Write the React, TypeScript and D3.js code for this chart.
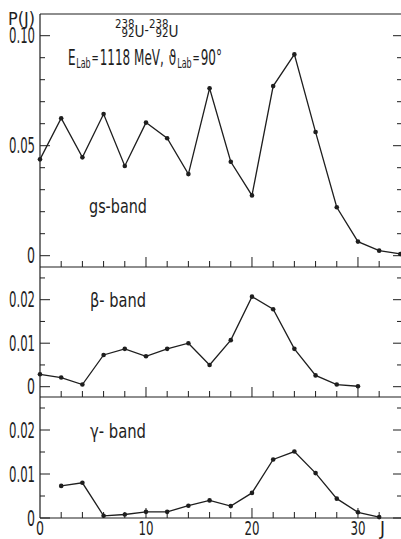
import React from "react";
import * as d3 from "d3";

const J_GS = [0, 2, 4, 6, 8, 10, 12, 14, 16, 18, 20, 22, 24, 26, 28, 30, 32, 34];
const P_GS = [0.0438, 0.0625, 0.0447, 0.0644, 0.0408, 0.0605, 0.0534, 0.0371, 0.0761, 0.0427, 0.0274, 0.0771, 0.0915, 0.0562, 0.022, 0.0064, 0.0023, 0.0008];

const J_BETA = [0, 2, 4, 6, 8, 10, 12, 14, 16, 18, 20, 22, 24, 26, 28, 30];
const P_BETA = [0.00285, 0.0021, 0.0005, 0.0073, 0.0087, 0.007, 0.0087, 0.01, 0.005, 0.0107, 0.0207, 0.0178, 0.0087, 0.0026, 0.0005, 0.0001];

const J_GAMMA = [2, 4, 6, 8, 10, 12, 14, 16, 18, 20, 22, 24, 26, 28, 30, 32];
const P_GAMMA = [0.0073, 0.008, 0.0005, 0.0008, 0.0014, 0.0014, 0.0028, 0.004, 0.0027, 0.0057, 0.0133, 0.0151, 0.0102, 0.0044, 0.0013, 0.0002];

const X_TICKS = d3.range(0, 34, 2);
const X_LABELS = [0, 10, 20, 30];
const GS_TICKS = d3.range(0, 11).map((i) => i * 0.01);
const GS_LABELS = [0, 0.05, 0.1];
const SMALL_TICKS = [0, 0.005, 0.01, 0.015, 0.02, 0.025];
const SMALL_LABELS = [0, 0.01, 0.02];

const INK = "#1e1e1e";
const FONT = "'Liberation Sans Narrow', 'DejaVu Sans Condensed', 'Arial Narrow', sans-serif";

const fmt = (v: number) => (v === 0 ? "0" : v.toFixed(2));

function T({ x, y, s, w, children, anchor = "start" }: any) {
  return (
    <text
      x={x}
      y={y}
      fontSize={s}
      fontFamily={FONT}
      fill={INK}
      textAnchor={anchor}
      textLength={w}
      lengthAdjust="spacingAndGlyphs"
    >
      {children}
    </text>
  );
}

const LEFT = 40;
const RIGHT = 401;

const x = d3.scaleLinear().domain([0, 34.06]).range([LEFT, RIGHT]);

function Panel({ js, ps, yScale, ticks, labels, top, bottom }: any) {
  const line = d3
    .line<number>()
    .x((_, i) => x(js[i]))
    .y((d) => yScale(d));
  return (
    <g>
      <line x1={LEFT} x2={RIGHT} y1={bottom} y2={bottom} stroke={INK} strokeWidth={1.2} />
      {X_TICKS.filter((j) => j > 0).map((j) => {
        const major = j % 10 === 0;
        return (
          <line key={j} x1={x(j)} x2={x(j)} y1={bottom} y2={bottom - (major ? 10 : 6)} stroke={INK} strokeWidth={1} />
        );
      })}
      {ticks.map((t: number) => {
        const yy = yScale(t);
        if (yy < top + 2) return null;
        const major = labels.some((l: number) => Math.abs(l - t) < 1e-9);
        return (
          <g key={t}>
            <line x1={LEFT} x2={LEFT + (major ? 10 : 5)} y1={yy} y2={yy} stroke={INK} strokeWidth={1} />
            <line x1={RIGHT} x2={RIGHT - (major ? 8 : 4)} y1={yy} y2={yy} stroke={INK} strokeWidth={1} />
          </g>
        );
      })}
      {labels.map((l: number) => (
        <T key={l} x={35} y={yScale(l) + 7.5} s={21} w={l === 0 ? 8 : 26} anchor="end">
          {fmt(l)}
        </T>
      ))}
      <path d={line(ps) || ""} fill="none" stroke={INK} strokeWidth={1.3} />
      {ps.map((p: number, i: number) => (
        <circle key={i} cx={x(js[i])} cy={yScale(p)} r={2.3} fill={INK} />
      ))}
    </g>
  );
}

export default function App() {
  const y1 = d3.scaleLinear().domain([0, 0.1]).range([255.7, 35.7]);
  const y2 = d3.scaleLinear().domain([0, 0.02]).range([386.7, 299.7]);
  const y3 = d3.scaleLinear().domain([0, 0.02]).range([518, 430]);
  return (
    <svg width={401} height={539} style={{ position: "absolute", left: 0, top: 0, background: "#fff" }}>
      <rect width={401} height={539} fill="#fff" />
      <line x1={LEFT} x2={RIGHT} y1={14} y2={14} stroke={INK} strokeWidth={1.2} />
      <line x1={LEFT} x2={LEFT} y1={14} y2={518} stroke={INK} strokeWidth={1.2} />

      <Panel js={J_GS} ps={P_GS} yScale={y1} ticks={GS_TICKS} labels={GS_LABELS} top={14} bottom={267} />
      <Panel js={J_BETA} ps={P_BETA} yScale={y2} ticks={SMALL_TICKS} labels={SMALL_LABELS} top={267} bottom={397} />
      <Panel js={J_GAMMA} ps={P_GAMMA} yScale={y3} ticks={SMALL_TICKS} labels={SMALL_LABELS} top={397} bottom={518} />

      {X_LABELS.map((j) => (
        <T key={j} x={x(j)} y={535} s={20} w={j === 0 ? 8 : 15} anchor="middle">
          {String(j)}
        </T>
      ))}
      <T x={380} y={535} s={20} w={5}>J</T>

      <T x={8} y={25} s={18} w={27}>P(J)</T>

      <text transform="translate(115,0) scale(0.95,1)" fontFamily={FONT} fill={INK}>
        <tspan x={0} y={28} fontSize={12}>238</tspan>
        <tspan dx={-13.7} y={37.5} fontSize={12}>92</tspan>
        <tspan y={37.5} fontSize={16}>U</tspan>
        <tspan y={35.5} fontSize={14}>-</tspan>
        <tspan y={28} fontSize={12}>238</tspan>
        <tspan dx={-13.7} y={37.5} fontSize={12}>92</tspan>
        <tspan y={37.5} fontSize={16}>U</tspan>
      </text>

      <text x={68} y={64.5} fontSize={21} fontFamily={FONT} fill={INK} textLength={154} lengthAdjust="spacingAndGlyphs">
        E
        <tspan fontSize={14} dy={3.5} dx={1}>Lab</tspan>
        <tspan fontSize={15} dy={-5} dx={1.5}>=</tspan>
        <tspan fontSize={21} dy={1.5} dx={1.5}>1118 MeV,</tspan>
        <tspan fontSize={21} dx={8}>ϑ</tspan>
        <tspan fontSize={14} dy={3.5} dx={1.5}>Lab</tspan>
        <tspan fontSize={15} dy={-5} dx={1.5}>=</tspan>
        <tspan fontSize={21} dy={1.5} dx={1.5}>90°</tspan>
      </text>

      <T x={89} y={213} s={20} w={58}>gs-band</T>
      <T x={90} y={307} s={20} w={56}>β- band</T>
      <T x={90} y={438} s={20} w={56}>γ- band</T>
    </svg>
  );
}
